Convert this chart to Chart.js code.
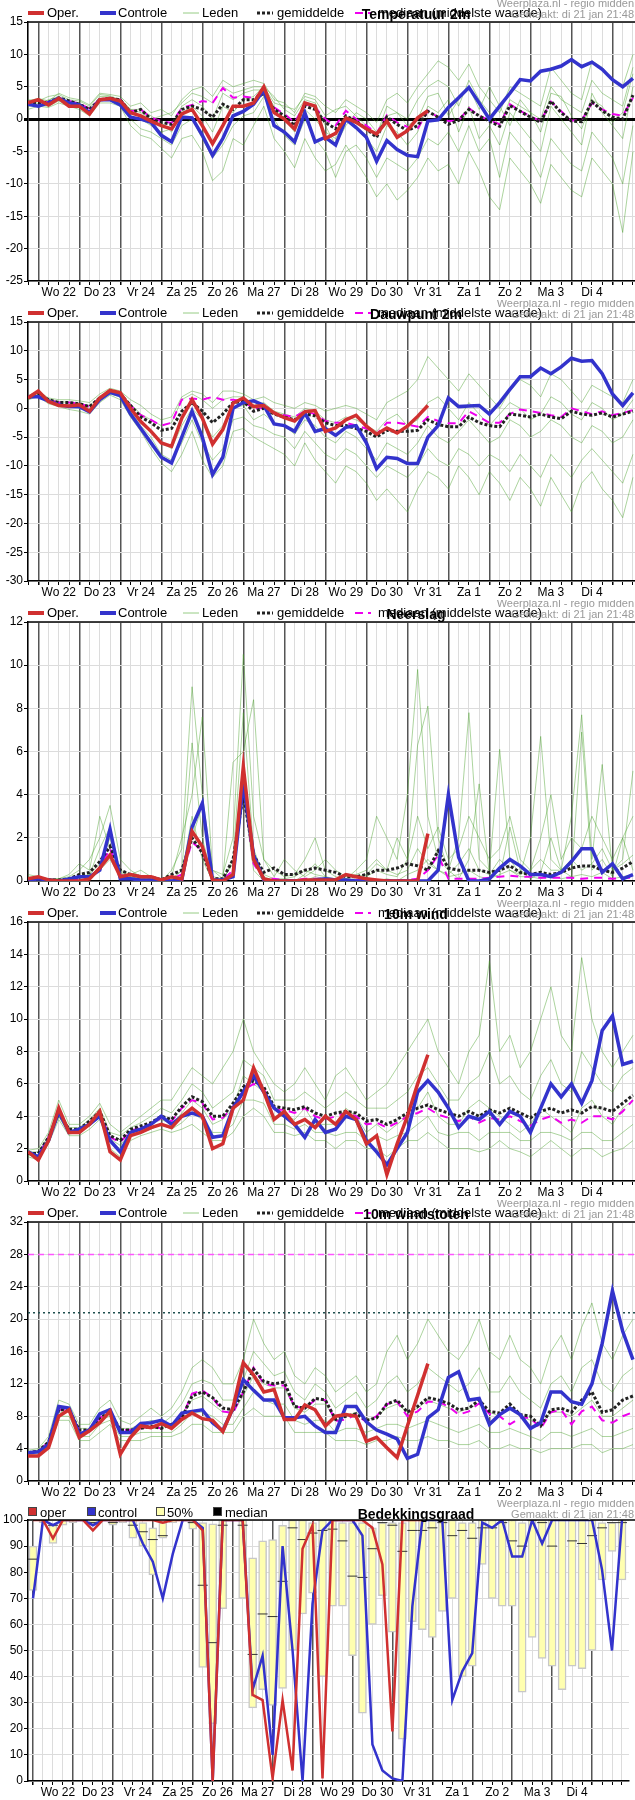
<!DOCTYPE html>
<html><head><meta charset="utf-8">
<script src="https://cdn.jsdelivr.net/npm/chart.js@4"></script>
<style>
body{margin:0;background:#fff}
canvas{position:absolute;left:0}
</style></head><body>
<canvas id="c1" style="top:0"></canvas>
<canvas id="c2" style="top:300px"></canvas>
<canvas id="c3" style="top:600px"></canvas>
<canvas id="c4" style="top:900px"></canvas>
<canvas id="c5" style="top:1200px"></canvas>
<canvas id="c6" style="top:1500px"></canvas>
<script>
// day labels, one per day (index 3+4k on 6-hourly steps)
var dayLabels=['Wo 22','Do 23','Vr 24','Za 25','Zo 26','Ma 27','Di 28','Wo 29','Do 30','Vr 31','Za 1','Zo 2','Ma 3','Di 4']

// ---- temperatuur 2m
var t2Oper=[2.5,3.0,2.2,3.2,2.0,2.0,0.8,3.0,3.2,2.8,1.0,0.5,-0.3,-1.0,-1.5,0.8,1.5,-1.0,-3.8,-1.0,2.0,2.0,2.5,5.0,1.0,0.0,-1.5,2.5,2.0,-3.0,-2.2,0.2,-0.5,-1.5,-2.3,-0.3,-2.8,-1.8,0.2,1.3]
var t2Ctrl=[2.3,2.0,2.5,3.2,2.5,2.2,1.0,3.0,3.0,2.2,0.3,0.0,-0.5,-2.5,-3.5,0.3,0.2,-2.5,-5.6,-3.0,0.5,1.2,2.3,4.5,-1.0,-2.0,-3.5,1.0,-3.5,-2.8,-4.0,0.0,-1.3,-2.8,-6.5,-3.3,-4.7,-5.6,-5.8,-0.3,-0.1,1.8,3.3,4.9,2.5,0,2.0,4.0,6.1,5.9,7.4,7.7,8.2,9.2,8.1,8.8,7.7,6.1,5.0,6.3]
var t2Mean=[2.6,2.5,2.6,3.3,2.8,2.3,1.5,3.0,3.2,3.0,1.0,1.5,0.0,-0.5,-0.8,1.5,2.0,1.5,0.3,2.3,1.5,3.0,3.0,4.0,1.5,0.5,-1.0,2.0,1.5,-0.5,-1.5,0.5,-0.3,-1.5,-2.8,0.3,-0.8,-1.8,-1.0,1.2,0.3,-0.8,-0.2,1.5,0.5,-0.3,-1.1,2.1,1.2,0.3,-0.5,2.8,1.0,-0.3,-0.4,2.7,1.3,0.3,0.0,3.7]
var t2Median=[2.7,2.6,2.7,3.3,2.8,2.4,1.6,3.1,3.3,3.0,1.2,1.5,0.2,-0.3,-0.6,1.7,2.2,2.8,2.5,4.8,3.3,3.5,3.3,4.3,1.8,0.8,-0.5,2.3,1.8,0.0,-1.0,1.3,0.0,-1.0,-2.2,0.6,-0.5,-1.2,-1.5,1.3,0.3,-0.3,-0.2,1.7,0.5,-0.2,-0.8,2.3,1.3,0.4,-0.3,2.7,1.2,-0.2,-0.2,2.5,1.5,0.8,0.5,3.3]
var t2Members=[
 [2.8,3.2,2.8,4.0,3.3,3.0,2.2,4.0,3.8,3.5,2.0,2.5,1.0,1.5,0.5,3.0,4.5,5.0,3.5,6.0,5.0,5.5,6.0,5.5,3.0,2.5,1.0,4.0,3.5,2.0,1.0,3.0,2.0,1.0,-0.5,3.0,4.0,2.5,5.0,7.0,9.0,8.0,6.0,8.5,5.0,3.0,1.0,5.0,4.0,3.0,2.0,8.0,6.0,4.0,3.0,9.0,8.0,6.0,5.0,10.0],
 [1.5,2.0,1.8,2.5,2.0,1.5,0.5,2.5,2.5,2.0,-1.0,-2.5,-3.0,-4.5,-6.0,-3.0,-2.5,-5.0,-9.5,-8.0,-3.0,-4.0,-1.0,2.0,-3.0,-5.0,-7.5,-3.0,-6.0,-8.0,-7.0,-4.0,-6.5,-9.0,-12.0,-10.0,-12.5,-11.0,-9.0,-6.0,-8.0,-7.0,-10.0,-5.0,-8.0,-12.0,-14.0,-6.0,-8.0,-10.0,-13.0,-7.0,-9.0,-11.0,-12.0,-6.0,-8.0,-10.0,-17.5,-5.0],
 [2.2,2.7,2.5,3.0,2.8,2.5,1.0,3.5,3.5,2.5,0.5,0.0,-1.0,-2.0,-1.5,2.0,3.0,2.0,0.0,4.0,3.0,4.0,4.5,4.5,2.0,0.0,-2.0,1.5,0.0,-2.0,-3.0,0.0,-1.5,-3.0,-5.0,-1.0,-2.0,-4.0,-2.0,2.0,1.0,3.0,-2.0,2.0,-3.0,-1.0,-4.0,1.0,-1.0,-3.0,-5.0,2.0,0.0,-2.0,-4.0,4.0,1.0,-1.0,-3.0,5.0],
 [2.6,2.4,3.0,3.5,2.5,2.0,1.8,3.2,3.0,3.2,1.5,1.5,0.5,-0.5,-2.0,1.0,2.0,0.5,-2.0,2.0,1.0,3.0,3.5,5.0,3.5,1.5,0.5,3.0,2.5,-1.0,-4.0,-1.0,1.0,0.0,-2.0,0.5,1.0,-1.0,0.0,3.5,4.0,0.5,3.0,5.0,1.5,5.0,2.0,-1.0,3.0,1.0,-2.0,4.0,3.5,0.5,-1.5,3.0,2.0,-0.5,1.0,7.0],
 [2.0,2.2,2.0,2.8,2.0,1.8,0.8,2.8,3.0,2.8,0.0,-1.5,-2.0,-3.0,-4.0,-1.0,0.0,-3.0,-6.0,-4.0,-1.0,0.5,1.0,3.5,0.0,-2.5,-4.0,0.0,-3.0,-5.0,-9.0,-5.0,-4.0,-6.0,-9.0,-6.0,-7.0,-8.0,-6.0,-3.0,-4.0,-2.0,-5.0,-1.0,-5.0,-3.0,-9.0,-2.0,-4.0,-6.0,-9.0,-3.0,-5.0,-7.0,-8.0,-2.0,-4.0,-6.0,-10.0,-1.0],
 [3.0,2.8,3.5,3.8,3.0,2.8,2.0,3.8,3.6,3.0,1.5,1.0,0.0,0.5,1.0,2.5,4.0,3.5,2.5,5.0,4.0,4.5,5.0,5.0,2.5,2.0,1.5,3.5,3.0,0.5,1.5,2.0,0.5,-1.0,-2.5,2.0,1.0,0.0,3.0,5.0,6.0,5.0,2.0,6.0,3.0,1.0,-1.0,3.0,2.0,1.0,0.0,5.0,3.0,2.0,1.0,6.0,4.0,3.0,2.0,8.0]
]

// ---- dauwpunt 2m
var tdOper=[1.8,3.0,1.2,0.5,0.4,0.6,-0.5,1.8,3.1,2.7,0,-2.3,-4,-6,-6.6,-1.7,1.5,-1.7,-6.2,-3.7,0.9,1.8,0.3,0.5,-0.8,-1.6,-2.2,-0.6,-0.4,-4,-3.4,-2,-1.2,-3.1,-4.5,-3.4,-4.3,-3.1,-1.4,0.5]
var tdCtrl=[2.0,2.0,1.3,0.6,0.3,0.3,-0.6,1.5,2.8,2.2,-1.0,-3.5,-6.0,-8.5,-9.5,-5.0,-0.5,-5.0,-11.5,-8.5,0.0,1.0,1.3,0.5,-2.7,-3.0,-4.0,-0.8,-4.0,-3.5,-4.7,-3.3,-3.0,-6.0,-10.5,-8.5,-8.7,-9.6,-9.6,-5,-3,1.8,0.3,0.4,0.5,-1.0,1.0,3.3,5.5,5.5,7.0,6.0,7.2,8.7,8.2,8.3,6.0,2.5,0.5,2.7]
var tdMean=[1.8,2.5,1.5,1.0,1.0,0.8,0.3,1.8,2.8,2.5,0.5,-1.5,-2.5,-3.8,-3.5,-0.5,1.0,-0.5,-2.5,-1.0,1.0,1.2,-0.5,0.0,-1.0,-1.5,-2.0,-1.0,-1.3,-2.5,-3.0,-3.0,-3.5,-4.0,-5.0,-3.8,-4.0,-4.0,-3.8,-2.0,-2.8,-3.2,-3.2,-1.5,-2.5,-3.0,-3.2,-1.0,-1.2,-1.5,-1.0,-1.5,-1.8,-0.5,-1.0,-1.2,-0.8,-1.5,-1.0,-0.5]
var tdMedian=[1.8,2.5,1.5,1.0,1.0,0.8,0.3,1.8,2.8,2.5,0.5,-1.2,-2.0,-3.0,-2.5,1.5,1.7,1.5,2.0,1.5,1.5,1.2,0.0,0.0,-0.8,-1.2,-1.5,-0.5,-1.0,-2.2,-2.5,-2.5,-3.0,-3.5,-4.5,-2.5,-2.5,-2.8,-3.2,-1.5,-2.2,-2.6,-2.6,-0.5,-1.5,-2.5,-2.5,-1.0,-0.2,-0.5,-0.8,-1.2,-1.5,0.0,-0.5,-1.0,-0.5,-1.2,-0.8,-0.3]
var tdMembers=[
 [2.2,3.0,1.8,1.5,1.5,1.3,1.0,2.5,3.5,3.0,1.5,0.5,-1.0,-2.0,-1.5,2.0,3.0,2.5,1.0,3.0,3.0,2.5,1.5,2.0,1.0,0.5,0.0,1.0,0.5,-0.5,0.0,0.5,0.0,-1.0,-2.0,1.0,2.0,3.0,5.0,9.0,7.0,5.0,3.0,6.0,4.0,2.0,0.0,3.0,5.0,4.0,2.0,6.0,5.0,3.0,1.0,4.0,3.0,2.0,1.0,5.0],
 [1.5,2.0,0.8,0.3,-0.2,-0.5,-1.0,1.0,2.3,1.5,-1.5,-4.0,-7.0,-9.5,-11.0,-8.0,-4.0,-9.0,-12.0,-10.0,-4.0,-3.5,-5.0,-6.0,-7.0,-8.0,-10.0,-6.0,-9.0,-11.0,-13.0,-10.0,-11.0,-13.0,-16.0,-14.0,-16.0,-18.0,-14.0,-11.0,-12.0,-14.0,-10.0,-12.0,-15.0,-11.0,-13.0,-16.0,-12.0,-14.0,-17.0,-12.0,-15.0,-18.0,-13.0,-11.0,-14.0,-16.0,-19.0,-12.0],
 [1.8,2.4,1.4,0.8,0.6,0.5,0.0,1.6,2.8,2.2,0.0,-2.0,-4.0,-6.0,-7.0,-3.0,0.0,-2.0,-5.0,-3.0,0.0,0.5,-2.0,-1.0,-2.5,-3.0,-4.5,-2.0,-3.0,-5.0,-6.0,-4.0,-5.0,-7.0,-9.0,-6.0,-7.0,-8.0,-6.0,-3.0,-5.0,-6.0,-4.0,-2.0,-4.0,-6.0,-5.0,-2.0,-3.0,-5.0,-4.0,-2.0,-3.0,-5.0,-6.0,-3.0,-4.0,-6.0,-5.0,-2.0],
 [2.0,2.6,1.6,1.2,1.0,0.8,0.5,2.0,3.0,2.6,0.8,-1.0,-2.0,-3.0,-2.5,1.5,2.5,1.5,0.0,1.5,2.0,2.0,0.5,1.0,-0.5,-1.0,-1.5,0.0,-0.5,-2.0,-2.5,-1.5,-2.0,-3.0,-4.0,-2.0,-1.0,-3.0,-2.0,1.0,2.0,0.0,-2.0,1.0,-1.0,-3.0,-1.0,1.0,0.0,-2.0,-1.0,2.0,1.0,-1.0,-2.0,1.0,0.0,-2.0,-1.0,1.5],
 [1.6,2.2,1.0,0.5,0.2,0.0,-0.5,1.2,2.5,2.0,-0.5,-3.0,-5.0,-8.0,-9.0,-6.0,-2.0,-6.0,-9.0,-7.0,-2.0,-1.5,-3.0,-3.5,-4.5,-5.0,-7.0,-4.0,-6.0,-8.0,-9.0,-7.0,-8.0,-10.0,-12.0,-10.0,-11.0,-12.0,-10.0,-7.0,-9.0,-10.0,-7.0,-8.0,-10.0,-8.0,-9.0,-11.0,-8.0,-10.0,-12.0,-8.0,-10.0,-12.0,-9.0,-7.0,-9.0,-11.0,-13.0,-8.0]
]

// ---- neerslag
var rrOper=[0.1,0.2,0.05,0,0,0,0.1,0.6,1.2,0.2,0.3,0.2,0.2,0.05,0.2,0.1,2.3,1.6,0.05,0,0.3,5.3,1.0,0.1,0,0,0,0.05,0.05,0.05,0.05,0.3,0.2,0.1,0.05,0,0,0,0,2.2]
var rrCtrl=[0.05,0.1,0.05,0,0.1,0.2,0.2,0.5,2.4,0.1,0.1,0.05,0.05,0,0,0.05,2.5,3.6,0.05,0.05,0.2,4.5,1.2,0.05,0,0,0,0,0.05,0.1,0.05,0.05,0,0,0,0,0,0,0,0,0.5,4.0,1.1,0,0,0.1,0.6,1.0,0.7,0.3,0.3,0.2,0.4,0.9,1.5,1.5,0.4,0.8,0.1,0.3]
var rrMean=[0.1,0.1,0.05,0.05,0.1,0.3,0.4,0.9,1.6,0.5,0.3,0.2,0.2,0.05,0.3,0.5,2.0,1.3,0.1,0.1,1.0,4.0,1.2,0.4,0.6,0.3,0.3,0.5,0.6,0.5,0.4,0.2,0.2,0.3,0.5,0.5,0.6,0.8,0.7,0.5,1.4,0.6,0.5,0.5,0.5,0.4,0.5,0.7,0.4,0.3,0.4,0.3,0.4,0.6,0.7,0.7,0.5,0.4,0.6,0.9]
var rrMedian=[0.05,0.05,0.02,0.02,0.05,0.1,0.2,0.6,1.5,0.3,0.1,0.05,0.05,0.02,0.1,0.3,1.8,1.4,0.05,0.05,0.5,4.3,0.8,0.1,0.1,0.05,0.05,0.1,0.1,0.1,0.05,0.05,0.05,0.05,0.05,0.05,0.05,0.05,0.1,0.5,1.2,0.1,0.1,0.1,0.1,0.15,0.2,0.25,0.2,0.2,0.15,0.15,0.15,0.15,0.1,0.15,0.15,0.1,0.15,0.15]
var rrMembers=[
 [0.3,0.2,0.1,0.1,0.2,0.5,1.0,2.0,3.5,1.0,0.5,0.2,0.1,0,0.5,1.5,9.0,4.0,0.5,0.3,2.0,10.5,3.0,1.0,0.5,0.2,0.3,1.0,2.0,0.5,0.2,0.1,0.5,1.0,3.0,2.0,1.0,4.0,9.8,3.0,1.0,0.5,2.0,7.8,1.0,0.5,6.1,1.0,0.3,2.0,6.7,1.0,0.5,3.0,7.7,1.0,5.4,0.5,1.0,5.1],
 [0.1,0.1,0,0,0,0.1,0.3,1.5,2.5,0.4,0.2,0.1,0,0,0,0.5,6.4,2.0,0.1,0,1.0,7.8,1.5,0.2,0,0,0,0.3,0.8,0.2,0,0,0,0.2,0.5,0.3,0.2,1.0,6.3,8.1,2.0,0.5,0.1,1.0,4.5,0.3,0.2,2.5,0.5,0.1,0.4,2.0,0.5,0.2,6.9,0.5,1.0,0.2,2.0,0.5],
 [0,0,0,0,0,0,0.1,0.5,1.0,0.2,0.1,0,0,0,0.1,0.3,3.0,1.0,0,0,0.3,4.0,0.5,0,0,0,0,0,0.2,0.1,0,0,0,0,0,0.1,0,0.3,0.5,1.0,0.5,0.2,0.3,0.5,0.2,0.1,0.3,0.5,0.2,0.2,0.1,0.3,0.1,0.2,0.3,0.2,0.4,0.1,0.2,0.3],
 [0.2,0.1,0.1,0.1,0.3,0.8,0.5,3.0,1.5,0.5,0.3,0.5,0.2,0.1,0.2,2.0,4.0,7.6,0.5,0.1,5.5,6.0,8.4,1.0,0.2,1.0,0.5,0.2,0.5,1.0,0.5,0.2,0.3,0.5,1.0,0.5,2.0,1.0,3.0,1.5,2.5,1.0,1.5,3.0,2.0,1.0,1.5,3.0,1.0,0.5,2.0,4.0,1.0,2.0,1.5,3.0,2.0,1.0,2.0,3.0],
 [0.1,0.1,0,0,0.1,0.2,0.3,0.8,2.0,0.3,0.2,0.1,0.1,0,0.1,0.5,2.0,3.5,0.2,0.1,0.8,5.5,1.0,0.3,0.1,0.1,0.2,0.5,0.3,0.2,0.1,0.1,0.2,0.3,0.8,0.5,0.3,0.5,1.5,0.8,0.5,0.3,0.8,1.5,0.5,0.3,1.0,0.5,0.3,0.5,1.0,0.5,0.5,1.0,0.5,0.8,1.5,0.5,0.8,1.2]
]

// ---- 10m wind
var wsOper=[1.8,1.3,2.5,4.5,3.0,3.0,3.5,4.3,1.8,1.3,2.8,3.0,3.3,3.5,3.3,4.0,4.5,4.0,2.0,2.3,4.5,5.0,7.0,5.5,3.8,4.3,3.5,3.8,3.3,4.0,3.5,4.3,3.8,2.3,2.8,0.4,2.3,4.0,6.0,7.8]
var wsCtrl=[1.8,1.5,2.5,4.3,3.0,3.2,3.5,4.0,2.5,1.8,3.0,3.2,3.5,4.0,3.5,4.0,4.2,4.0,2.7,2.8,4.5,5.5,6.5,5.5,4.5,4.0,3.5,2.7,3.8,3.0,3.2,4.0,3.8,2.5,1.8,1.0,2.0,3.0,5.5,6.2,5.5,4.5,3.3,4.0,3.8,4.3,3.5,4.3,4.0,3.0,4.5,6.0,5.2,6.0,4.8,6.2,9.3,10.2,7.2,7.4]
var wsMean=[1.7,1.7,2.7,4.2,3.2,3.2,3.7,4.3,2.8,2.5,3.2,3.4,3.6,4.0,3.8,4.6,5.2,4.9,4.0,4.0,4.8,5.8,6.2,5.8,4.6,4.5,4.4,4.6,4.2,4.0,4.2,4.3,4.2,3.7,3.8,3.5,3.8,4.2,4.5,4.7,4.4,4.2,4.0,4.3,4.0,4.4,4.2,4.5,4.2,3.9,4.3,4.5,4.2,4.4,4.2,4.6,4.5,4.3,4.8,5.3]
var wsMedian=[1.7,1.6,2.7,4.2,3.1,3.2,3.6,4.2,2.7,2.4,3.1,3.3,3.5,3.9,3.7,4.5,5.0,4.8,3.8,3.9,4.6,5.6,6.0,5.7,4.4,4.4,4.2,4.5,4.0,3.8,4.0,4.2,4.0,3.5,3.6,3.3,3.6,4.0,4.2,4.5,4.1,3.9,3.7,4.0,3.6,3.9,3.8,4.0,3.7,3.4,3.8,4.0,3.6,3.8,3.6,4.0,4.0,3.8,4.3,5.0]
var wsMembers=[
 [1.9,2.0,3.0,5.0,3.5,3.5,4.0,4.8,3.5,3.0,3.5,4.0,4.5,5.0,5.0,6.0,7.0,6.5,6.0,7.0,8.0,10.0,8.0,7.0,6.0,5.5,6.0,7.0,6.0,5.0,6.5,7.0,6.0,5.0,5.5,6.0,7.0,8.0,9.0,10.0,8.0,7.0,6.0,8.0,9.0,13.6,8.0,9.0,7.0,8.0,10.0,12.0,9.0,8.0,13.8,10.0,8.0,7.0,8.0,9.0],
 [1.5,1.3,2.3,3.8,2.8,2.8,3.2,3.8,2.0,1.5,2.5,2.8,3.0,3.2,3.0,3.2,3.5,3.0,2.5,2.5,3.0,4.0,4.5,4.0,3.0,3.0,2.8,3.0,2.5,2.5,2.0,2.5,2.5,2.0,2.0,1.5,2.0,2.5,2.5,3.0,2.5,2.0,2.0,2.0,1.8,2.0,2.5,2.0,1.8,1.5,2.0,2.5,2.0,1.5,2.0,2.0,1.5,1.8,2.0,2.5],
 [1.7,1.6,2.6,4.0,3.0,3.0,3.6,4.2,2.6,2.2,3.0,3.2,3.5,3.8,3.5,4.2,5.0,4.5,3.5,3.8,4.5,6.5,6.0,5.5,4.0,4.0,3.8,4.5,3.5,3.5,3.5,4.5,4.0,3.0,3.5,3.0,3.5,4.0,4.5,5.5,4.0,3.5,3.5,4.5,5.0,4.5,4.0,3.5,3.0,3.5,4.5,4.0,3.5,3.0,4.5,5.0,4.0,3.5,4.5,5.0],
 [1.8,1.8,2.8,4.5,3.3,3.3,3.8,4.5,3.0,2.8,3.3,3.6,4.0,4.5,4.2,5.0,6.0,5.5,4.5,5.0,5.5,7.5,7.0,6.5,5.0,5.0,5.0,5.5,5.0,4.5,5.0,5.5,5.0,4.5,4.5,4.5,5.0,5.5,6.5,7.0,6.0,5.0,5.0,6.0,6.5,8.0,6.0,6.5,5.5,5.0,6.5,7.5,6.0,5.5,8.0,7.0,6.0,5.5,6.5,7.0],
 [1.6,1.5,2.5,4.0,2.9,3.0,3.4,4.0,2.4,2.0,2.8,3.0,3.2,3.5,3.2,3.6,4.2,3.8,3.0,3.0,3.5,5.0,5.0,4.8,3.5,3.5,3.2,3.5,3.0,3.0,2.8,3.0,3.0,2.5,2.8,2.5,2.8,3.0,3.5,4.0,3.0,2.8,3.0,3.0,2.5,3.0,3.0,3.0,2.5,2.5,3.0,3.0,2.8,2.5,3.0,3.0,2.5,2.5,3.0,3.5]
]

// ---- 10m windstoten
var wgOper=[3.1,3.1,4.1,8.0,8.8,5.4,6.2,7.2,8.6,3.3,5.4,6.8,6.6,7.1,6.5,7.6,8.4,7.7,7.5,6.1,9.1,14.6,13.1,11.0,11.3,7.6,7.6,9.4,8.8,6.8,8.0,8.2,8.0,4.9,5.4,4.1,2.9,6.8,10.6,14.5]
var wgCtrl=[3.5,3.6,4.5,9.2,9.0,5.8,6.3,8.3,8.8,6.0,6.0,7.1,7.2,7.5,6.8,8.4,8.6,8.8,7.2,6.2,9.0,12.5,11.2,10.0,10.0,7.8,7.8,8.0,6.8,6.0,6.0,9.2,9.2,7.3,6.3,5.8,5.2,2.8,3.3,7.8,8.8,12.8,13.5,10.0,10.2,7.0,8.2,9.0,8.2,6.5,7.2,11.0,11.0,9.8,9.5,12.0,17.0,23.5,18.5,15.0]
var wgMean=[3.5,3.7,4.8,8.8,8.8,6.3,6.3,7.8,8.5,6.3,6.3,6.5,6.8,6.5,7.0,7.8,10.5,11.0,10.3,9.0,8.8,11.0,13.8,12.3,12.0,12.2,9.2,9.0,10.2,10.0,7.6,8.0,8.3,7.5,7.8,9.5,10.0,8.5,9.2,10.3,10.0,9.6,8.8,9.0,10.0,8.6,8.4,9.5,8.2,8.0,6.8,8.8,9.0,8.5,10.0,11.0,8.5,8.8,10.0,10.5]
var wgMedian=[3.5,3.7,4.8,8.8,8.8,6.3,6.3,7.8,8.5,6.3,6.3,6.5,6.8,6.5,7.0,7.8,10.8,11.2,10.3,8.6,8.4,11.0,14.0,12.0,11.8,11.8,9.2,9.0,10.0,10.0,7.4,7.6,8.2,7.3,8.0,9.5,9.8,8.0,8.6,9.8,9.8,9.2,8.2,8.6,9.6,8.3,8.0,7.0,7.8,7.8,6.5,8.5,8.8,7.0,8.6,9.2,7.5,7.2,8.0,8.5]
var wgMembers=[
 [3.8,4.0,5.5,10.0,9.5,7.0,7.0,9.0,10.0,7.5,7.0,8.0,9.0,8.0,9.0,11.0,14.0,15.0,14.0,12.0,12.0,15.0,20.0,17.0,15.0,16.0,13.0,12.0,14.0,13.0,11.0,12.0,13.0,11.0,12.0,16.0,18.0,15.0,17.0,20.0,18.0,16.0,15.0,17.0,20.0,16.0,15.0,18.0,15.0,14.0,12.0,16.0,18.0,15.0,19.0,22.0,17.0,15.0,18.0,20.0],
 [3.0,3.2,4.0,7.5,7.5,5.0,5.0,6.0,7.0,5.0,5.0,5.0,5.5,5.5,5.5,6.0,7.0,7.0,6.0,6.0,6.0,8.0,9.0,8.0,8.0,8.0,6.0,6.0,6.0,6.0,5.0,5.0,5.0,4.5,5.0,5.0,5.5,5.0,5.0,5.5,5.0,5.0,4.5,4.5,5.0,4.0,4.0,4.5,4.0,4.0,3.5,4.0,4.0,4.0,4.5,4.5,3.5,4.0,4.0,4.5],
 [3.4,3.6,4.6,8.5,8.5,6.0,6.0,7.5,8.0,6.0,6.0,6.5,6.5,6.5,7.0,8.0,10.0,10.5,9.5,8.5,8.5,10.5,13.0,12.0,11.5,11.5,9.0,8.5,9.5,9.5,7.5,8.0,8.5,7.5,8.0,9.0,9.5,8.5,9.0,10.0,9.5,9.0,8.5,9.0,9.5,8.5,8.0,9.0,8.0,7.5,7.0,8.5,8.5,8.0,9.0,10.0,8.0,8.0,9.0,10.0],
 [3.6,3.8,5.0,9.2,9.0,6.5,6.5,8.2,9.0,6.5,6.5,7.0,7.5,7.0,8.0,9.5,12.0,12.5,12.0,10.0,10.0,12.5,16.0,14.5,13.0,13.5,11.0,10.0,12.0,11.0,9.0,10.0,11.0,9.0,10.0,12.0,13.0,11.0,12.0,14.0,13.0,12.0,11.0,12.0,14.0,11.0,11.0,13.0,11.0,10.0,9.0,12.0,13.0,11.0,14.0,15.0,12.0,11.0,13.0,14.0],
 [3.2,3.4,4.3,8.0,8.0,5.5,5.5,7.0,7.5,5.5,5.5,6.0,6.0,6.0,6.0,7.0,8.5,8.5,8.0,7.0,7.0,9.0,11.0,10.0,9.5,9.5,7.5,7.0,7.5,7.5,6.0,6.5,6.5,6.0,6.5,7.0,7.0,6.5,7.0,7.5,7.0,6.5,6.0,6.5,7.0,6.0,6.0,6.5,6.0,5.5,5.0,6.0,6.0,5.5,6.0,6.5,5.5,5.5,6.0,6.5]
]
var wgPinkLine=28
var wgDarkLine=20.8

// ---- bedekkingsgraad
var ccOper=[100,100,93,100,100,100,96,100,100,100,100,100,100,99,100,100,100,96,0,100,100,100,33,31,1,31,4,89,98,1,100,100,100,100,97,83,19,100,100,100]
var ccCtrl=[70,100,98,100,100,100,98,100,100,100,100,91,84,70,87,100,100,97,0,100,100,100,35,48,10,90,50,0,68,96,100,100,100,94,14,4,1,0,67,100,100,100,31,42,49,99,97,100,86,86,100,91,100,100,100,100,100,81,50,100]
var ccLow=[73,99,91,98,99,100,98,100,98,99,93,90,79,93,99,100,96.5,43.5,22,66,100,70,28,35,29,35.5,50,64,72,40,67,67,48,26,60,71,57,16,61,58,55,65,70,40,44,83,70,67,67,34,55,47,44,35,44,43,50,77,88,77]
var ccHigh=[90,100,98,100,100,100,100,100,100,100,100,99,97,99,100,100,100,99,98.5,100,100,100,85.5,92,92.5,98,100,100,99,100,100,99,99,99,97,99,99,99,100,100,100,100,100,99,99,100,100,100,100,99,100,100,100,100,100,100,100,99,99,100]
var ccMed=[85,100,98,100,100,100,99,100,99,100,98,95.5,92.5,94,100,100,99,75,53,98,100,98,48.5,64,63,76.5,97,92.5,95,96,96.5,92,78.5,78,89,99,98,88,96,96,97,99,94,96,93,97,97,99,92,90,100,99,90,100,92,91,94,97,99,99]

function pts(arr,off){
    var out=[]
    for(var i=0;i<arr.length;i++) out.push({x:i+(off||0),y:arr[i]})
    return out
}

var FONT='"Liberation Sans", Arial, sans-serif'

function drawHeader(chart,title,items,boxes){
    var ctx=chart.ctx, a=chart.chartArea
    ctx.save()
    // black line on top of plot
    ctx.strokeStyle='#000';ctx.lineWidth=1.5
    ctx.beginPath();ctx.moveTo(a.left,a.top);ctx.lineTo(635,a.top);ctx.stroke()
    ctx.textBaseline='middle'
    ctx.font='13px '+FONT
    var y=13
    items.forEach(function(it){
        ctx.save()
        if(boxes){
            ctx.fillStyle=it.color;ctx.strokeStyle='#444';ctx.lineWidth=1
            ctx.fillRect(it.x,y-6,9,9);ctx.strokeRect(it.x+0.5,y-5.5,8,8)
        }else{
            ctx.strokeStyle=it.color;ctx.lineWidth=it.w
            ctx.setLineDash(it.dash||[])
            ctx.beginPath();ctx.moveTo(it.x,y);ctx.lineTo(it.x+16,y);ctx.stroke()
        }
        ctx.restore()
        ctx.fillStyle='#000'
        ctx.fillText(it.text,it.tx,y)
    })
    ctx.font='bold 14px '+FONT
    ctx.textAlign='center'
    ctx.fillText(title,416,y+2)
    ctx.font='11px '+FONT
    ctx.fillStyle='#999'
    ctx.textAlign='right'
    ctx.fillText('Weerplaza.nl - regio midden',634,4)
    ctx.fillText('Gemaakt: di 21 jan 21:48',634,15)
    ctx.restore()
}

var lineLegend=[
    {x:28,tx:47,color:'#d03030',w:4,text:'Oper.'},
    {x:100,tx:118,color:'#3333cc',w:4,text:'Controle'},
    {x:183,tx:202,color:'rgba(80,170,50,0.6)',w:1,text:'Leden'},
    {x:257,tx:277,color:'#222',w:3,dash:[3,2],text:'gemiddelde'},
    {x:355,tx:378,color:'#ee00ee',w:2,dash:[8,5],text:'mediaan (middelste waarde)'}
]
var boxLegend=[
    {x:28,tx:40,color:'#d03030',text:'oper'},
    {x:87,tx:98,color:'#3333cc',text:'control'},
    {x:156,tx:167,color:'#ffffb0',text:'50%'},
    {x:213,tx:225,color:'#000',text:'median'}
]

function isDayLine(c,off){
    if(!c.tick) return false
    var v=Math.round(c.tick.value-off)
    return off ? (v%4===0) : ((v-1)%4===0)
}

function xAxis(off){
    // off 0: points on integers, day lines at 1+4k ; off 0.5: grid between points, day lines at 0.5+4k
    return {
        type:'linear',min:0,max:59.2,
        afterFit:function(s){s.height=19},
        afterBuildTicks:function(s){
            var t=[]
            for(var i=0;i<60;i++) t.push({value:i+off})
            s.ticks=t
        },
        border:{color:'#000',width:1.5},
        grid:{
            color:function(c){return isDayLine(c,off)?'#555':'#dcdcdc'},
            lineWidth:function(c){return isDayLine(c,off)?1.5:1},
            tickColor:'#000',tickLength:4
        },
        ticks:{
            autoSkip:false,maxRotation:0,padding:0,color:'#000',font:{family:FONT,size:12},
            callback:function(v){
                var k=off?Math.round(v-0.5)-2:Math.round(v)-3
                if(k>=0&&k%4===0&&dayLabels[k/4]) return dayLabels[k/4]
                return ''
            }
        }
    }
}

function yAxis(min,max,step,zeroBold){
    function isZero(c){return zeroBold&&c.tick&&c.tick.value===0}
    return {
        min:min,max:max,
        afterFit:function(s){s.width=28},
        border:{color:'#000',width:1.5},
        grid:{
            color:function(c){return isZero(c)?'#000':'#dcdcdc'},
            lineWidth:function(c){return isZero(c)?3:1},
            tickColor:'#000',tickLength:4
        },
        ticks:{stepSize:step,padding:1,color:'#000',font:{family:FONT,size:12}}
    }
}

function ensembleChart(id,title,ymin,ymax,step,oper,ctrl,mean,median,members,extra,zeroBold){
    var ds=[]
    ds.push({data:pts(oper),borderColor:'#d03030',borderWidth:3.5,order:0})
    ds.push({data:pts(ctrl),borderColor:'#3333cc',borderWidth:3.5,order:1})
    ds.push({data:pts(median),borderColor:'#ee00ee',borderWidth:2,borderDash:[8,6],order:3})
    ds.push({data:pts(mean),borderColor:'#222',borderWidth:3,borderDash:[3,2],order:2})
    members.forEach(function(m){
        ds.push({data:pts(m),borderColor:'rgba(70,160,40,0.45)',borderWidth:1,order:5})
    })
    ;(extra||[]).forEach(function(e){ds.push(e)})
    var cv=document.getElementById(id)
    cv.width=635;cv.height=300
    return new Chart(cv,{
        type:'line',
        data:{datasets:ds},
        options:{
            responsive:false,animation:false,
            layout:{padding:{top:22,right:0,left:0,bottom:0}},
            elements:{point:{radius:0},line:{tension:0}},
            plugins:{legend:{display:false},tooltip:{enabled:false}},
            scales:{x:xAxis(0),y:yAxis(ymin,ymax,step,zeroBold)}
        },
        plugins:[{id:'hdr',afterDraw:function(c){drawHeader(c,title,lineLegend,false)}}]
    })
}

ensembleChart('c1','Temperatuur 2m',-25,15,5,t2Oper,t2Ctrl,t2Mean,t2Median,t2Members,null,true)
ensembleChart('c2','Dauwpunt 2m',-30,15,5,tdOper,tdCtrl,tdMean,tdMedian,tdMembers)
ensembleChart('c3','Neerslag',0,12,2,rrOper,rrCtrl,rrMean,rrMedian,rrMembers)
ensembleChart('c4','10m wind',0,16,2,wsOper,wsCtrl,wsMean,wsMedian,wsMembers)
ensembleChart('c5','10m windstoten',0,32,2,wgOper,wgCtrl,wgMean,wgMedian,wgMembers,[
    {data:[{x:0,y:wgPinkLine},{x:59.2,y:wgPinkLine}],borderColor:'#ff55ff',borderWidth:1.5,borderDash:[6,4],order:6},
    {data:[{x:0,y:wgDarkLine},{x:59.2,y:wgDarkLine}],borderColor:'#1f4f4f',borderWidth:1.5,borderDash:[2,3],order:6}
])

// bedekkingsgraad
var ccBars=[],ccMedPts=[]
for(var i=0;i<ccLow.length;i++){
    ccBars.push({x:i,y:[ccLow[i],ccHigh[i]]})
    ccMedPts.push({x:i,y:ccMed[i]})
}
var cv6=document.getElementById('c6')
cv6.width=635;cv6.height=300
new Chart(cv6,{
    type:'line',
    data:{datasets:[
        {data:pts(ccOper),borderColor:'#d03030',borderWidth:2.5,order:0},
        {data:pts(ccCtrl),borderColor:'#3333cc',borderWidth:2.5,order:1},
        {type:'scatter',data:ccMedPts,pointStyle:'line',pointRadius:5,borderColor:'#333',borderWidth:1,order:2},
        {type:'bar',data:ccBars,backgroundColor:'#ffffb0',borderColor:'#c8c8c8',borderWidth:1.5,borderSkipped:false,barThickness:8,grouped:false,order:3}
    ]},
    options:{
        responsive:false,animation:false,
        layout:{padding:{top:20,right:0,left:0,bottom:0}},
        elements:{point:{radius:0},line:{tension:0}},
        plugins:{legend:{display:false},tooltip:{enabled:false}},
        scales:{x:xAxis(0.5),y:yAxis(0,100,10,false)}
    },
    plugins:[{id:'hdr',afterDraw:function(c){drawHeader(c,'Bedekkingsgraad',boxLegend,true)}}]
})
</script>
</body></html>
